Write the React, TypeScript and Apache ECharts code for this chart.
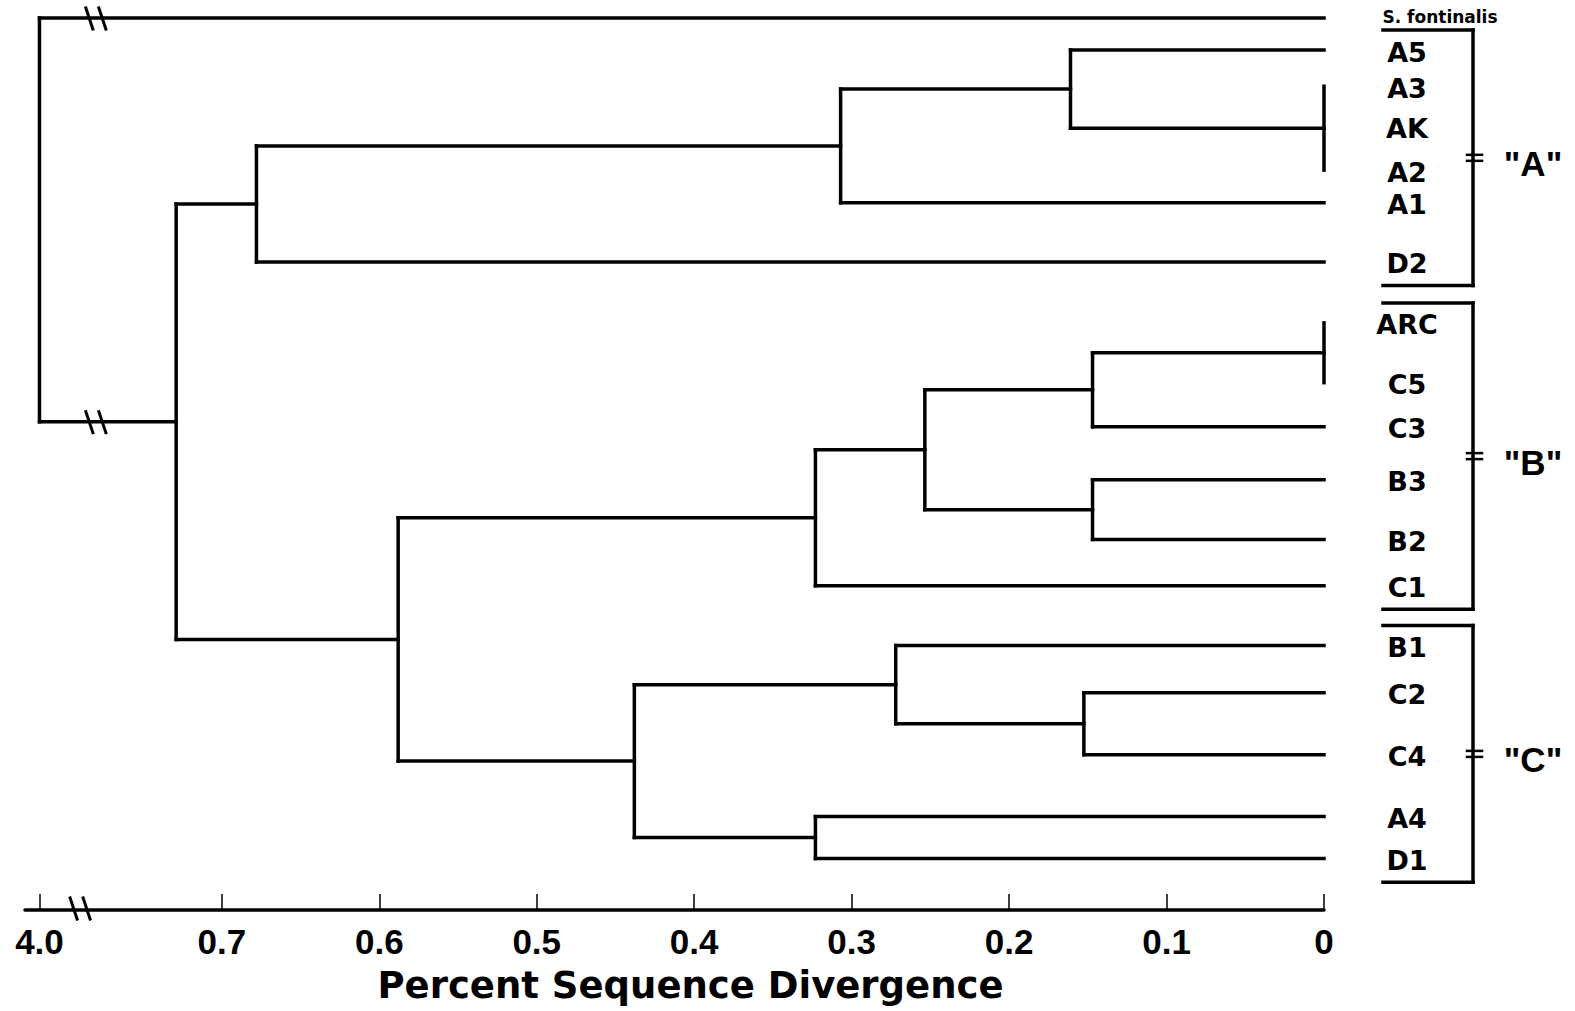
import React, { useEffect, useRef } from "react";
import * as echarts from "echarts";

// ---- data ----
const leafNames = ["S. fontinalis", "A5", "A3", "AK", "A2", "A1", "D2", "ARC", "C5", "C3", "B3", "B2", "C1", "B1", "C2", "C4", "A4", "D1"];
// vertical position of each leaf (row units, top = 0)
const leafRows = [0, 0.61, 1.3, 2.06, 2.9, 3.52, 4.65, 5.81, 6.95, 7.79, 8.8, 9.94, 10.82, 11.96, 12.86, 14.04, 15.22, 16.02];

// clusters: children (leaf names or "n<index>") and divergence height
const clusterChildren: string[][] = [
  ["A3", "AK", "A2"], // n0
  ["A5", "n0"], // n1
  ["n1", "A1"], // n2
  ["n2", "D2"], // n3
  ["ARC", "C5"], // n4
  ["n4", "C3"], // n5
  ["B3", "B2"], // n6
  ["n5", "n6"], // n7
  ["n7", "C1"], // n8
  ["C2", "C4"], // n9
  ["B1", "n9"], // n10
  ["A4", "D1"], // n11
  ["n10", "n11"], // n12
  ["n8", "n12"], // n13
  ["n3", "n13"], // n14
  ["S. fontinalis", "n14"], // n15 (root)
];
const clusterHeights = [0, 0.161, 0.307, 0.678, 0, 0.147, 0.147, 0.2535, 0.323, 0.1525, 0.272, 0.323, 0.438, 0.588, 0.729, 4.0];

const groupLabels = ['"A"', '"B"', '"C"'];
const groupFirstLeaf = ["A5", "ARC", "B1"];
const groupLastLeaf = ["D2", "C1", "D1"];

const tickValues = [0, 0.1, 0.2, 0.3, 0.4, 0.5, 0.6, 0.7, 4.0];
const tickLabels = ["0", "0.1", "0.2", "0.3", "0.4", "0.5", "0.6", "0.7", "4.0"];
const axisTitle = "Percent Sequence Divergence";

// ---- broken axis mapping ----
const BREAK_POS = 0.8158; // where 4.0 sits on the broken axis
const AXIS_MAX = 0.825;
const BREAK_MARK = 0.78;
const AXIS_BREAK_MARK = 0.79;
const ROW_MAX = 17;
const xPos = (v: number) => (v > 1 ? BREAK_POS : v);

const leafIndex = (name: string) => leafNames.indexOf(name);
const isCluster = (id: string) => /^n\d+$/.test(id);
const nodeRow = (id: string): number => {
  if (isCluster(id)) {
    const rows = clusterChildren[+id.slice(1)].map(nodeRow);
    return (Math.min(...rows) + Math.max(...rows)) / 2;
  }
  return leafRows[leafIndex(id)];
};
const nodeHeight = (id: string): number => (isCluster(id) ? xPos(clusterHeights[+id.slice(1)]) : 0);

const LW = 3.5;
const lineEl = (x1: number, y1: number, x2: number, y2: number, w = LW) => ({
  type: "line",
  shape: { x1, y1, x2, y2 },
  style: { stroke: "#000", lineWidth: w, lineCap: "square" },
});
const breakMarks = (cx: number, cy: number) => [
  lineEl(cx - 10, cy - 10, cx - 3, cy + 11, 3),
  lineEl(cx + 3, cy - 10, cx + 10, cy + 11, 3),
];

export default function App() {
  const ref = useRef<HTMLDivElement>(null);
  useEffect(() => {
    if (!ref.current) return;
    const chart = echarts.init(ref.current, null, { renderer: "svg" });

    const clusterSeries = {
      type: "custom",
      coordinateSystem: "cartesian2d",
      data: clusterHeights.map((h, i) => [xPos(h), nodeRow("n" + i)]),
      renderItem: (params: any, api: any) => {
        const i = params.dataIndex;
        const h = xPos(clusterHeights[i]);
        const kids = clusterChildren[i];
        const rows = kids.map(nodeRow);
        const hs = kids.map(nodeHeight);
        const top = api.coord([h, Math.min(...rows)]);
        const bot = api.coord([h, Math.max(...rows)]);
        const children: any[] = [lineEl(top[0], top[1], bot[0], bot[1])];
        kids.forEach((k, j) => {
          const a = api.coord([hs[j], rows[j]]);
          const b = api.coord([h, rows[j]]);
          if (Math.abs(a[0] - b[0]) > 0.5) children.push(lineEl(a[0], a[1], b[0], b[1]));
        });
        if (clusterHeights[i] > 1) {
          rows.forEach((r) => {
            const m = api.coord([BREAK_MARK, r]);
            children.push(...breakMarks(m[0], m[1]));
          });
        }
        return { type: "group", children };
      },
      silent: true,
      z: 3,
    };

    const leafSeries = {
      type: "custom",
      coordinateSystem: "cartesian2d",
      data: leafRows.map((r) => [0, r]),
      renderItem: (params: any, api: any) => {
        const i = params.dataIndex;
        const p = api.coord([0, leafRows[i]]);
        const small = i === 0;
        return {
          type: "text",
          x: p[0] + (small ? 116 : 83),
          y: p[1] + (small ? -1 : 2),
          style: {
            text: leafNames[i],
            fill: "#000",
            fontFamily: "DejaVu Sans",
            fontWeight: "bold",
            fontSize: small ? 17 : 27,
            align: "center",
            verticalAlign: "middle",
          },
        };
      },
      silent: true,
      z: 4,
    };

    const padTop = 0.38;
    const padBottom = 0.45;
    const groupSeries = {
      type: "custom",
      coordinateSystem: "cartesian2d",
      data: groupLabels.map((_, g) => [0, (leafRows[leafIndex(groupFirstLeaf[g])] + leafRows[leafIndex(groupLastLeaf[g])]) / 2]),
      renderItem: (params: any, api: any) => {
        const g = params.dataIndex;
        const r0 = leafRows[leafIndex(groupFirstLeaf[g])] - padTop;
        const r1 = leafRows[leafIndex(groupLastLeaf[g])] + padBottom;
        const a = api.coord([0, r0]);
        const b = api.coord([0, r1]);
        const x0 = a[0] + 59;
        const xv = a[0] + 149;
        const ym = (a[1] + b[1]) / 2;
        return {
          type: "group",
          children: [
            lineEl(x0, a[1], xv, a[1]),
            lineEl(xv, a[1], xv, b[1]),
            lineEl(x0, b[1], xv, b[1]),
            lineEl(xv - 6, ym - 3, xv + 9, ym - 3, 2.5),
            lineEl(xv - 6, ym + 3, xv + 9, ym + 3, 2.5),
            {
              type: "text",
              x: a[0] + 209,
              y: ym + 6,
              style: {
                text: groupLabels[g],
                fill: "#000",
                fontFamily: "Liberation Sans",
                fontWeight: "bold",
                fontSize: 35,
                align: "center",
                verticalAlign: "middle",
              },
            },
          ],
        };
      },
      silent: true,
      z: 4,
    };

    const axisBreakSeries = {
      type: "custom",
      coordinateSystem: "cartesian2d",
      data: [[AXIS_BREAK_MARK, ROW_MAX]],
      renderItem: (params: any, api: any) => {
        const p = api.coord([AXIS_BREAK_MARK, ROW_MAX]);
        return { type: "group", children: breakMarks(p[0], p[1] - 2) };
      },
      silent: true,
      z: 5,
    };

    const tickPositions = tickValues.map(xPos);
    const labelFor = (v: number) => {
      const k = tickPositions.findIndex((t) => Math.abs(t - v) < 1e-6);
      return k >= 0 ? tickLabels[k] : "";
    };

    chart.setOption({
      animation: false,
      backgroundColor: "#fff",
      grid: { left: 25, right: 251, top: 18, bottom: 101 },
      xAxis: {
        type: "value",
        inverse: true,
        min: 0,
        max: AXIS_MAX,
        position: "bottom",
        splitLine: { show: false },
        axisLine: { show: true, onZero: false, lineStyle: { color: "#000", width: 3.5 } },
        axisTick: {
          show: true,
          inside: true,
          length: 16,
          customValues: tickPositions,
          lineStyle: { color: "#000", width: 1.5 },
        },
        axisLabel: {
          customValues: tickPositions,
          formatter: (v: number) => labelFor(v),
          color: "#000",
          fontFamily: "Liberation Sans",
          fontWeight: "bold",
          fontSize: 35,
          margin: 14,
        },
        name: axisTitle,
        nameLocation: "middle",
        nameGap: 57,
        nameTextStyle: {
          color: "#000",
          fontFamily: "DejaVu Sans",
          fontWeight: "bold",
          fontSize: 37,
          padding: [0, 0, 0, 32],
        },
      },
      yAxis: { type: "value", inverse: true, min: 0, max: ROW_MAX, show: false },
      series: [clusterSeries, leafSeries, groupSeries, axisBreakSeries],
    });

    return () => chart.dispose();
  }, []);

  return (
    <div
      ref={ref}
      style={{ position: "fixed", left: 0, top: 0, width: 1575, height: 1011, background: "#fff" }}
    />
  );
}
